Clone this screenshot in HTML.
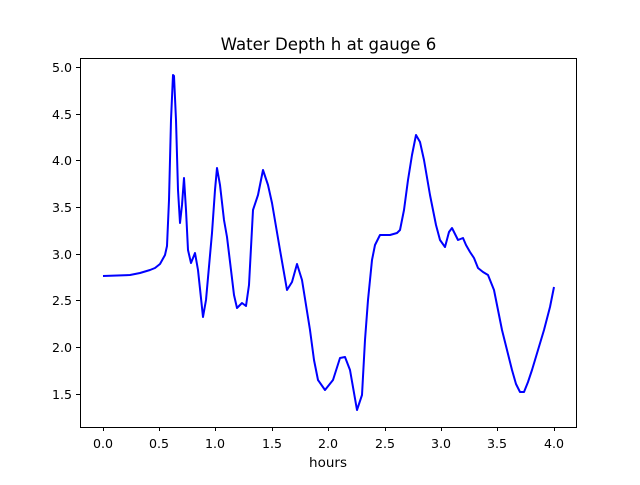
<!DOCTYPE html>
<html><head><style>body{margin:0;background:#fff}</style></head><body>
<svg width="640" height="480" xmlns="http://www.w3.org/2000/svg" font-family="DejaVu Sans, Liberation Sans, sans-serif">
<rect width="640" height="480" fill="#fff"/>
<polyline fill="none" stroke="#0000ff" stroke-width="2" stroke-linejoin="round" points="103,276 130,275 140,273 150,270 155,268 160,264 165,255 167,246 169,200 171,120 173,75 174,76 176,120 178,190 180,223 182,205 184,178 186,210 188,250 191,263 195,253 198,270 203,317 206,300 212,233 215,190 217,168 220,185 224,220 227,237 231,270 234,295 237,308 242,303 246,306 249,285 253,210 258,195 263,170 268,185 272,203 280,250 287,290 292,282 297,264 302,280 306,305 310,330 314,360 318,380 325,390 333,380 340,358 345,357 350,370 357,410 362,395 365,340 368,300 372,260 375,245 380,235 390,235 397,233 400,230 404,210 408,180 412,155 416,135 420,142 424,160 430,195 436,225 440,240 445,247 449,232 452,228 456,236 458,240 463,238 466,245 470,252 474,258 478,268 483,272 488,275 494,290 498,310 502,330 507,350 512,370 516,384 520,392 524,392 528,382 532,370 538,350 544,330 550,307 554,287"/>
<rect x="80.5" y="58.5" width="496" height="369" fill="none" stroke="#000" stroke-width="1"/>
<g stroke="#000" stroke-width="1">
<line x1="103.5" y1="427" x2="103.5" y2="431"/><line x1="159.5" y1="427" x2="159.5" y2="431"/><line x1="215.5" y1="427" x2="215.5" y2="431"/><line x1="272.5" y1="427" x2="272.5" y2="431"/><line x1="328.5" y1="427" x2="328.5" y2="431"/><line x1="385.5" y1="427" x2="385.5" y2="431"/><line x1="441.5" y1="427" x2="441.5" y2="431"/><line x1="497.5" y1="427" x2="497.5" y2="431"/><line x1="554.5" y1="427" x2="554.5" y2="431"/>
<line x1="76" y1="67.5" x2="80" y2="67.5"/><line x1="76" y1="114.5" x2="80" y2="114.5"/><line x1="76" y1="160.5" x2="80" y2="160.5"/><line x1="76" y1="207.5" x2="80" y2="207.5"/><line x1="76" y1="254.5" x2="80" y2="254.5"/><line x1="76" y1="300.5" x2="80" y2="300.5"/><line x1="76" y1="347.5" x2="80" y2="347.5"/><line x1="76" y1="394.5" x2="80" y2="394.5"/>
</g>
<g font-size="12.6" text-anchor="middle">
<text x="103" y="448">0.0</text><text x="159" y="448">0.5</text><text x="215" y="448">1.0</text><text x="272" y="448">1.5</text><text x="328" y="448">2.0</text><text x="385" y="448">2.5</text><text x="441" y="448">3.0</text><text x="497" y="448">3.5</text><text x="554" y="448">4.0</text>
</g>
<text x="328" y="467" font-size="13.5" text-anchor="middle">hours</text>
<g font-size="12.6" text-anchor="end">
<text x="72" y="72">5.0</text><text x="72" y="119">4.5</text><text x="72" y="165">4.0</text><text x="72" y="212">3.5</text><text x="72" y="259">3.0</text><text x="72" y="305">2.5</text><text x="72" y="352">2.0</text><text x="72" y="399">1.5</text>
</g>
<text x="328.5" y="50" font-size="16.6" text-anchor="middle">Water Depth h at gauge 6</text>
</svg>
</body></html>
